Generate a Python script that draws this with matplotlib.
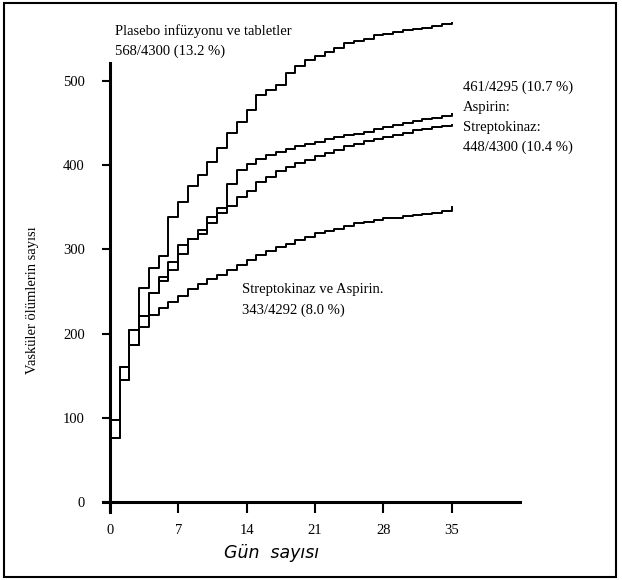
import numpy as np
import matplotlib
matplotlib.use('Agg')
import matplotlib.pyplot as plt
from matplotlib.patches import Rectangle

# cumulative vascular deaths, value held from day d to d+1
days = list(range(36))

placebo = [97, 160, 204, 254, 278, 292, 339, 357, 375, 389, 404, 421, 439, 452,
           466, 484, 490, 496, 510, 518, 525, 530, 535, 540, 546, 548, 551, 555,
           557, 559, 561, 563, 564, 566, 568, 570]
aspirin = [97, 160, 204, 221, 248, 267, 285, 305, 312, 323, 339, 349, 378, 395,
           402, 408, 413, 416, 420, 423, 426, 428, 431, 434, 436, 438, 440, 443,
           446, 448, 451, 453, 455, 457, 459, 461]
strepto = [76, 145, 186, 221, 248, 263, 276, 295, 312, 318, 331, 343, 352, 362,
           370, 380, 386, 393, 398, 403, 407, 411, 415, 419, 423, 426, 429, 432,
           434, 436, 439, 442, 444, 446, 447, 448]
sk_asp = [76, 145, 186, 208, 222, 230, 238, 245, 253, 259, 265, 270, 275, 281,
          288, 294, 298, 303, 307, 311, 315, 320, 322, 324, 328, 331, 333, 335,
          337, 338, 340, 341, 342, 344, 346, 350]

x_ticks = [0, 7, 14, 21, 28, 35]
y_ticks = [0, 100, 200, 300, 400, 500]

plt.rcParams['font.family'] = ['Liberation Serif', 'DejaVu Serif']

W, H = 622, 580
fig = plt.figure(figsize=(W / 100, H / 100), dpi=100)
ax = fig.add_axes([103 / W, 1 - 511.6 / H, (520 - 103) / W, (511.6 - 63) / H])

for series in (placebo, aspirin, strepto, sk_asp):
    xs = [0] + days
    ys = [0] + series
    ax.step(xs, ys, where='post', color='black', lw=1.4, clip_on=False)

ax.set_xlim(-0.7, 42)
ax.set_ylim(-12, 522)
ax.spines['top'].set_visible(False)
ax.spines['right'].set_visible(False)
ax.spines['left'].set_position(('data', 0))
ax.spines['bottom'].set_position(('data', 0))
ax.spines['left'].set_linewidth(2.2)
ax.spines['bottom'].set_linewidth(2.2)
ax.set_xticks(x_ticks)
ax.set_yticks(y_ticks)
ax.tick_params(axis='x', direction='out', length=8, width=1.5, pad=8, labelsize=10.5)
ax.tick_params(axis='y', direction='out', length=6, width=1.5, pad=12, labelsize=10.5)

fig.text(33 / W, 1 - 300 / H, 'Vasküler ölümlerin sayısı', rotation=90,
         ha='center', va='center', fontsize=10.5)
fig.text(272 / W, 1 - 553 / H, 'Gün  sayısı', ha='center', va='center',
         fontsize=12.5, style='italic', family='DejaVu Sans')

fig.text(115 / W, 1 - 31 / H, 'Plasebo infüzyonu ve tabletler', ha='left', va='center', fontsize=10.5)
fig.text(115 / W, 1 - 51 / H, '568/4300 (13.2 %)', ha='left', va='center', fontsize=10.5)

right_lines = ['461/4295 (10.7 %)', 'Aspirin:', 'Streptokinaz:', '448/4300 (10.4 %)']
for i, t in enumerate(right_lines):
    fig.text(463 / W, 1 - (87 + 20 * i) / H, t, ha='left', va='center', fontsize=10.5)

fig.text(242 / W, 1 - 289 / H, 'Streptokinaz ve Aspirin.', ha='left', va='center', fontsize=10.5)
fig.text(242 / W, 1 - 310 / H, '343/4292 (8.0 %)', ha='left', va='center', fontsize=10.5)

# scanned page frame
fig.patches.append(Rectangle((4 / W, 3 / H), 612 / W, 574 / H, transform=fig.transFigure,
                             fill=False, edgecolor='black', lw=1.5))

fig.savefig('out.png', dpi=100)
